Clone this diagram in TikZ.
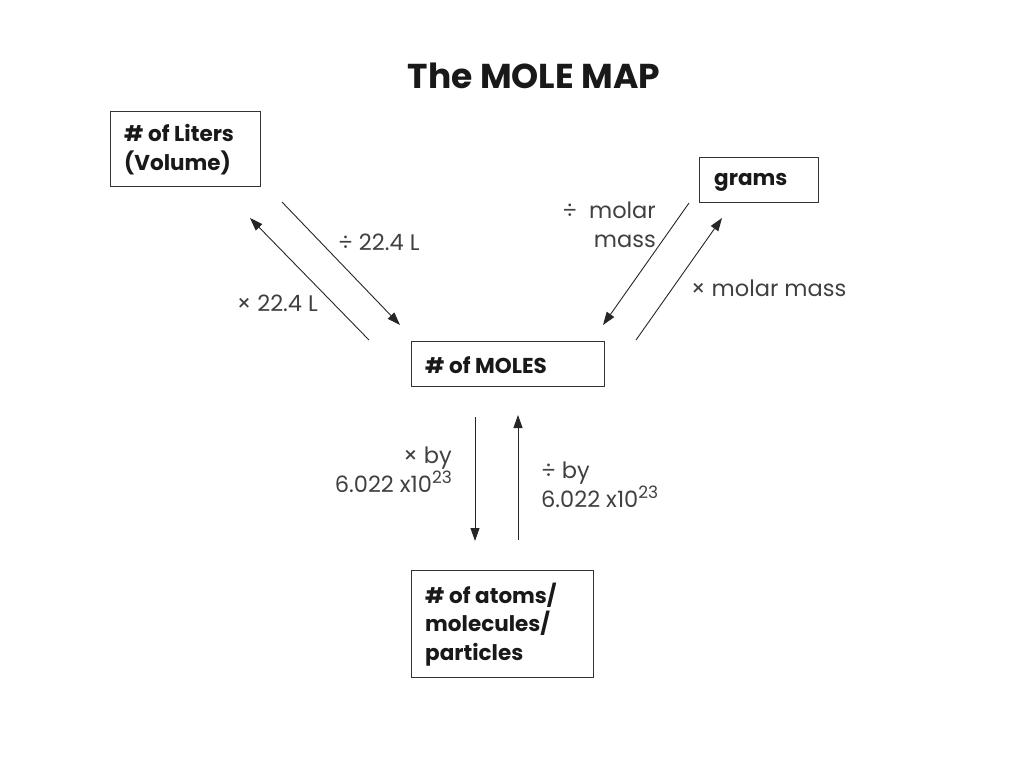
\documentclass[tikz,border=0pt]{standalone}
\usepackage{fontspec}
\setmainfont{Poppins}
\usetikzlibrary{arrows.meta}
\definecolor{lbl}{HTML}{404040}
\newcommand{\mysup}[1]{\raisebox{0.40em}{\fontsize{17}{17}\selectfont #1}}
\begin{document}
\begin{tikzpicture}[x=1pt,y=-1pt,
  box/.style={draw=black!80, line width=0.9pt, inner sep=0pt},
  btxt/.style={font=\fontsize{21.5}{29}\selectfont\bfseries, anchor=west, align=left, inner sep=0pt, text=black!90},
  lab/.style={font=\fontsize{22.5}{29}\selectfont, text=lbl, inner sep=0pt},
  arr/.style={draw=black!85, line width=0.9pt, -{Triangle[length=13pt,width=9pt]}}]
\useasboundingbox (0,0) rectangle (1024,768);
\node[font=\fontsize{34.5}{40}\selectfont\bfseries, text=black!90] (title) at (534,76) {The MOLE MAP};
% boxes
\node[box, minimum width=150pt, minimum height=75pt] (liters) at (185,148.5) {};
\node[btxt] (literst) at (124,149.5) {\# of Liters\\(Volume)};
\node[box, minimum width=119pt, minimum height=45pt] (grams) at (758.5,179.5) {};
\node[btxt] (gramst) at (714,182) {grams};
\node[box, minimum width=193pt, minimum height=45pt] (moles) at (507.5,363.5) {};
\node[btxt] (molest) at (425,365) {\# of MOLES};
\node[box, minimum width=182pt, minimum height=107pt] (atoms) at (502,623.5) {};
\node[btxt, font=\fontsize{21.5}{28.5}\selectfont\bfseries] (atomst) at (425,624.5) {\# of atoms/\\molecules/\\particles};
% arrow ends
\coordinate (a1s) at (282,202); \coordinate (a1e) at (400,325);
\coordinate (a2s) at (369,340); \coordinate (a2e) at (250,218);
\coordinate (a3s) at (689,203); \coordinate (a3e) at (603,325);
\coordinate (a4s) at (636,340); \coordinate (a4e) at (722,218);
\coordinate (a5s) at (475,417); \coordinate (a5e) at (475,541);
\coordinate (a6s) at (518,540); \coordinate (a6e) at (518,415);
\draw[arr] (a1s) -- (a1e);
\draw[arr] (a2s) -- (a2e);
\draw[arr] (a3s) -- (a3e);
\draw[arr] (a4s) -- (a4e);
\draw[arr] (a5s) -- (a5e);
\draw[arr] (a6s) -- (a6e);
% labels
\node[lab, anchor=west] (l1) at (338,242) {÷ 22.4 L};
\node[lab, anchor=east] (l2) at (318,303) {× 22.4 L};
\node[lab, anchor=east, align=right] (l3) at (656,225) {÷\ \ molar\\mass};
\node[lab, anchor=west] (l4) at (691,288) {× molar mass};
\node[lab, anchor=east, align=right] (l5) at (452,470) {× by\\6.022 x10\mysup{23}};
\node[lab, anchor=west, align=left] (l6) at (541,485) {÷ by\\6.022 x10\mysup{23}};
\end{tikzpicture}
\end{document}
